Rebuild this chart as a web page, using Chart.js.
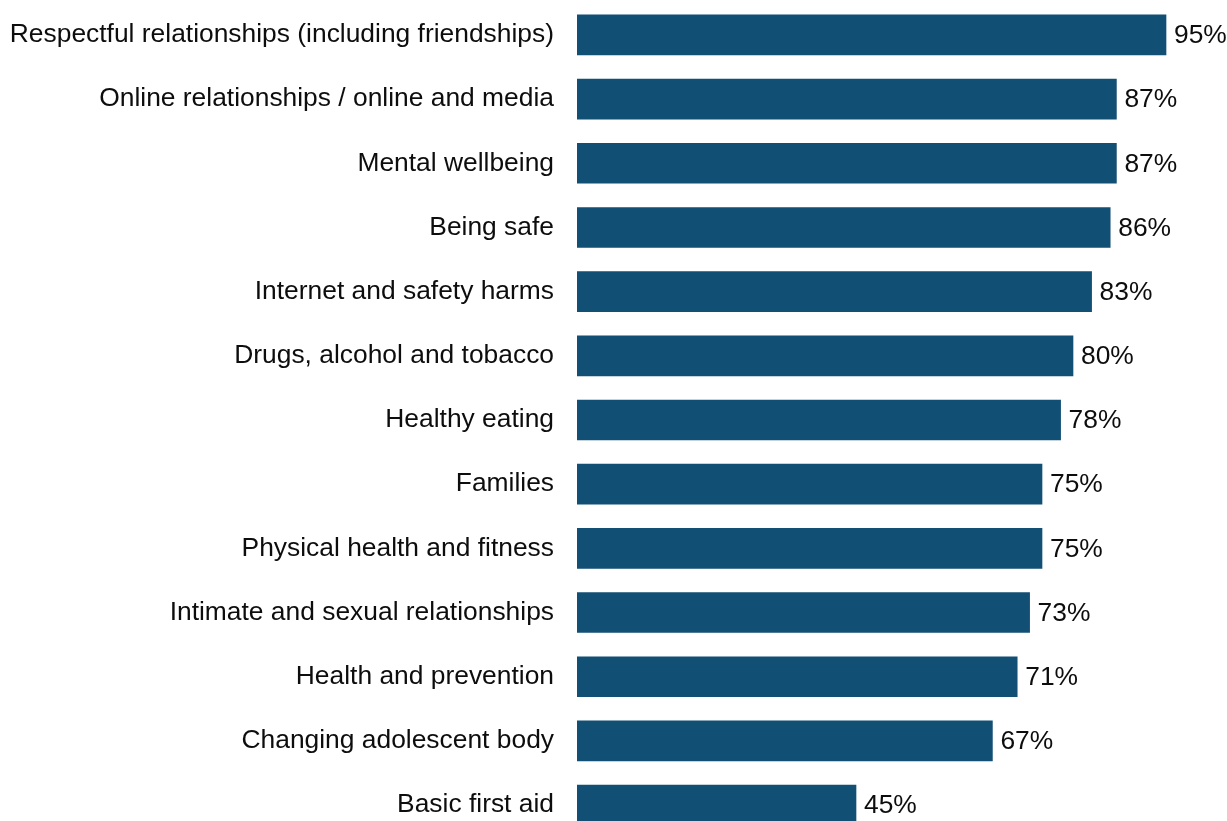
<!DOCTYPE html>
<html>
<head>
<meta charset="utf-8">
<script src="https://cdn.jsdelivr.net/npm/chart.js@4"></script>
<style>
  html, body { margin: 0; padding: 0; background: #fff; overflow: hidden; }
  canvas { display: block; margin-top: -36px; }
</style>
</head>
<body>
<canvas id="grafico-temas" width="1227" height="912"></canvas>
<script>
const temas = [
    "Respectful relationships (including friendships)",
    "Online relationships / online and media",
    "Mental wellbeing",
    "Being safe",
    "Internet and safety harms",
    "Drugs, alcohol and tobacco",
    "Healthy eating",
    "Families",
    "Physical health and fitness",
    "Intimate and sexual relationships",
    "Health and prevention",
    "Changing adolescent body",
    "Basic first aid",
];
const percentuais = [95, 87, 87, 86, 83, 80, 78, 75, 75, 73, 71, 67, 45];

const fonte = "'Liberation Sans', Arial, sans-serif";

// escreve o valor ao lado de cada barra
const rotulosValores = {
    id: "rotulosValores",
    afterDatasetsDraw: (chart) => {
        const ctx = chart.ctx;
        const meta = chart.getDatasetMeta(0);
        ctx.save();
        ctx.font = "26.4px " + fonte;
        ctx.fillStyle = "#0d0d0d";
        ctx.textAlign = "left";
        ctx.textBaseline = "middle";
        meta.data.forEach((barra, i) => {
            ctx.fillText(percentuais[i] + "%", barra.x + 8, barra.y + 1);
        });
        ctx.restore();
    },
};

new Chart(document.getElementById("grafico-temas").getContext("2d"), {
    type: "bar",
    data: {
        labels: temas,
        datasets: [
            {
                data: percentuais,
                backgroundColor: "#124f74",
                borderWidth: 0,
                barThickness: 40,
            },
        ],
    },
    options: {
        indexAxis: "y",
        responsive: false,
        animation: false,
        layout: {
            padding: { top: 2, bottom: 2, left: 0, right: 30 },
        },
        plugins: {
            legend: { display: false },
            tooltip: { enabled: false },
        },
        scales: {
            x: {
                display: false,
                min: 0,
                max: 100,
            },
            y: {
                afterFit: (scale) => {
                    scale.width = 577;
                },
                grid: { display: false, drawTicks: false },
                border: { display: false },
                ticks: {
                    padding: 23,
                    color: "#0d0d0d",
                    font: { family: fonte, size: 26.4 },
                },
            },
        },
    },
    plugins: [rotulosValores],
});
</script>
</body>
</html>
